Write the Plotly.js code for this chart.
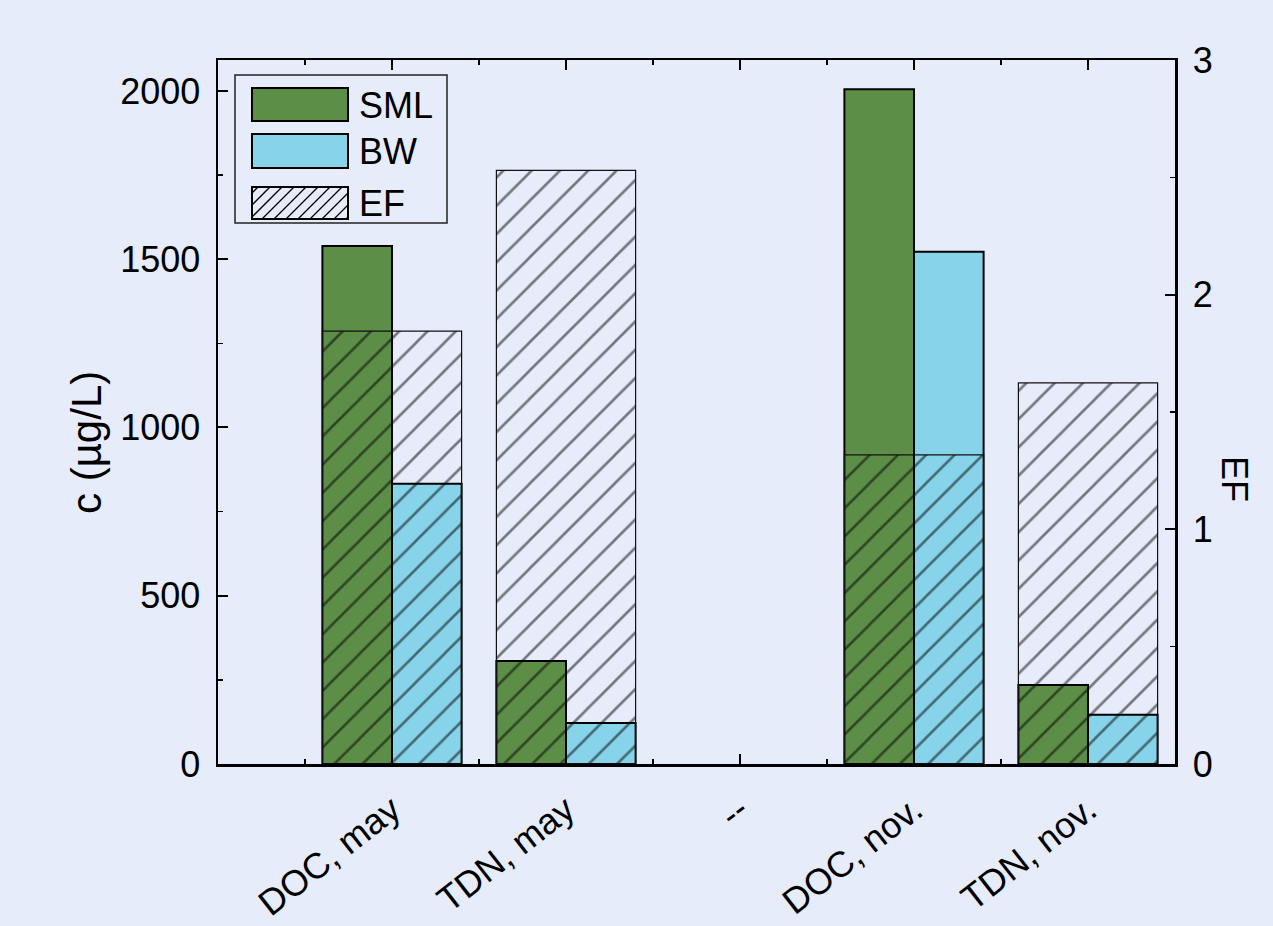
<!DOCTYPE html>
<html>
<head>
<meta charset="utf-8">
<script src="https://cdn.plot.ly/plotly-3.0.1.min.js"></script>
<style>html,body{margin:0;padding:0;background:#e6ecfa;}#chart{width:1273px;height:926px;}</style>
</head>
<body>
<div id="chart"></div>
<script>
// ---- data ----
const categories = ["DOC, may", "TDN, may", "--", "DOC, nov.", "TDN, nov."];
const smlValues = [1539, 306, null, 2005, 235];   // c (µg/L)
const bwValues  = [833, 122, null, 1522, 146];    // c (µg/L)
const efValues  = [1.845, 2.53, null, 1.317, 1.624]; // EF (right axis)
const seriesNames = ["SML", "BW", "EF"];

// ---- styling ----
const FONT = "Liberation Sans, Arial, Helvetica, sans-serif";
const BG = "#e6ecfa";
const GREEN = "#5d8e47";
const BLUE = "#87d4ea";
const W = 1273, H = 926;
const L = 218, R = 1175, T = 60, B = 764;
const px = x => (x - L) / (R - L);
const py = y => (B - y) / (B - T);

const xIdx = categories.map((c, i) => i);

const traces = [
  {
    type: "bar", name: seriesNames[0], x: xIdx, y: smlValues,
    offset: -0.4, width: 0.4,
    marker: { color: GREEN, line: { color: "#000", width: 2 } },
    xaxis: "x", yaxis: "y", showlegend: false, hoverinfo: "skip"
  },
  {
    type: "bar", name: seriesNames[1], x: xIdx, y: bwValues,
    offset: 0, width: 0.4,
    marker: { color: BLUE, line: { color: "#000", width: 2 } },
    xaxis: "x", yaxis: "y", showlegend: false, hoverinfo: "skip"
  },
  {
    type: "bar", name: seriesNames[2], x: xIdx, y: efValues,
    offset: -0.4, width: 0.8,
    marker: {
      color: "rgba(0,0,0,0)",
      line: { color: "#111", width: 1.2 },
      pattern: { shape: "/", size: 20, solidity: 0.13, fgcolor: "#000", bgcolor: "rgba(0,0,0,0)", fillmode: "overlay" }
    },
    xaxis: "x", yaxis: "y2", showlegend: false, hoverinfo: "skip"
  }
];

// ---- custom legend (shapes + annotations) ----
const shapes = [];
const annotations = [];
function rectPx(x0, y0, x1, y1, fill, lw, lc) {
  shapes.push({ type: "rect", xref: "paper", yref: "paper",
    x0: px(x0), x1: px(x1), y0: py(y1), y1: py(y0),
    fillcolor: fill, line: { color: lc || "#000", width: lw } });
}
function linePx(x0, y0, x1, y1, lw, lc) {
  shapes.push({ type: "line", xref: "paper", yref: "paper",
    x0: px(x0), x1: px(x1), y0: py(y0), y1: py(y1),
    line: { color: lc, width: lw } });
}
// legend frame
rectPx(235, 75, 447, 223, "rgba(0,0,0,0)", 1.5, "#222");
// swatches
rectPx(252, 88, 348, 121, GREEN, 2, "#000");
rectPx(252, 134, 348, 168, BLUE, 2, "#000");
// hatched swatch
(function () {
  const x0 = 252, y0 = 187, x1 = 348, y1 = 219, step = 12;
  for (let c = x0 + y0 + 6; c < x1 + y1; c += step) {
    const xa = Math.max(x0, c - y1), xb = Math.min(x1, c - y0);
    if (xb > xa) linePx(xa, c - xa, xb, c - xb, 1.3, "#000");
  }
  rectPx(x0, y0, x1, y1, "rgba(0,0,0,0)", 2, "#000");
})();
const legendTextY = [105, 151, 203];
seriesNames.forEach((n, i) => {
  annotations.push({ xref: "paper", yref: "paper", x: px(357), y: py(legendTextY[i]),
    xanchor: "left", yanchor: "middle", showarrow: false, text: n,
    font: { family: FONT, size: 36, color: "#000" } });
});
// axis titles
annotations.push({ xref: "paper", yref: "paper", x: px(87), y: py(443), textangle: -90,
  xanchor: "center", yanchor: "middle", showarrow: false, text: "c (µg/L)",
  font: { family: FONT, size: 42, color: "#000" } });
annotations.push({ xref: "paper", yref: "paper", x: px(1235), y: py(479), textangle: 90,
  xanchor: "center", yanchor: "middle", showarrow: false, text: "EF",
  font: { family: FONT, size: 36, color: "#000" } });

const tickFont = { family: FONT, size: 36, color: "#000" };

const layout = {
  width: W, height: H,
  paper_bgcolor: BG, plot_bgcolor: BG,
  margin: { l: L, r: W - R, t: T, b: H - B, pad: 0 },
  barmode: "overlay",
  showlegend: false,
  hovermode: false,
  font: { family: FONT, color: "#000" },
  xaxis: {
    type: "linear", range: [-1, 4.5],
    tickmode: "array", tickvals: xIdx, ticktext: categories,
    tickangle: -38, tickfont: { family: FONT, size: 36, color: "#000" },
    ticklabelstandoff: 8,
    ticks: "inside", ticklen: 10, tickwidth: 2, tickcolor: "#000",
    minor: { tickmode: "linear", tick0: -0.5, dtick: 1, ticks: "inside", ticklen: 5, tickwidth: 1.5, tickcolor: "#000" },
    showline: true, linecolor: "#000", linewidth: 2.5, mirror: "ticks",
    showgrid: false, zeroline: false, automargin: false, fixedrange: true
  },
  yaxis: {
    range: [0, 2092],
    tickmode: "array", tickvals: [0, 500, 1000, 1500, 2000],
    tickfont: tickFont, ticklabelstandoff: 8,
    ticks: "inside", ticklen: 10, tickwidth: 2, tickcolor: "#000",
    minor: { tickmode: "linear", tick0: 0, dtick: 250, ticks: "inside", ticklen: 5, tickwidth: 1.5, tickcolor: "#000" },
    showline: true, linecolor: "#000", linewidth: 2.5, mirror: false,
    showgrid: false, zeroline: false, automargin: false, fixedrange: true
  },
  yaxis2: {
    overlaying: "y", side: "right", range: [0, 3],
    tickmode: "array", tickvals: [0, 1, 2, 3],
    tickfont: tickFont, ticklabelstandoff: 8,
    ticks: "inside", ticklen: 10, tickwidth: 2, tickcolor: "#000",
    minor: { tickmode: "linear", tick0: 0, dtick: 0.5, ticks: "inside", ticklen: 5, tickwidth: 1.5, tickcolor: "#000" },
    showline: true, linecolor: "#000", linewidth: 2.5,
    showgrid: false, zeroline: false, automargin: false, fixedrange: true
  },
  shapes: shapes,
  annotations: annotations
};

Plotly.newPlot("chart", traces, layout, { displayModeBar: false, staticPlot: true });
</script>
</body>
</html>
